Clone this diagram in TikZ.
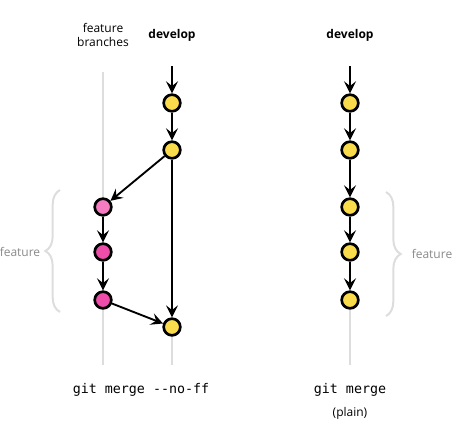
\documentclass[tikz,border=0pt]{standalone}
\usepackage{fontspec}
\setmainfont{Open Sans}
\setmonofont{DejaVu Sans Mono}
\usetikzlibrary{arrows.meta,decorations.pathreplacing}
\definecolor{commityel}{HTML}{F9DB4C}
\definecolor{commitpink}{HTML}{EE4DAA}
\definecolor{commitlpink}{HTML}{F57CC0}
\definecolor{lanegray}{HTML}{DDDDDD}
\definecolor{labelgray}{HTML}{8A8A8A}
\begin{document}
\begin{tikzpicture}[x=0.75pt, y=-0.75pt,
  commit/.style={circle, draw, line width=2pt, fill=commityel, minimum size=12.5pt, inner sep=0pt},
  flow/.style={line width=1.4pt, -{Stealth[length=9pt, width=9pt, inset=3.5pt]}},
  lane/.style={line width=2.2pt, lanegray},
  curly/.style={decorate, decoration={brace, amplitude=11pt}, line width=1.5pt, lanegray},
  note/.style={font=\fontsize{9}{11}\selectfont}]
  \useasboundingbox (0,0) rectangle (459,433);
  % gray lanes
  \draw[lane] (103,72) -- (103,365);
  \draw[lane] (172,336) -- (172,365);
  \draw[lane] (350,310) -- (350,365);
  % left: --no-ff
  \node[note, align=center] (branchlbl) at (103,35) {feature\\branches};
  \node[note, font=\fontsize{9}{11}\selectfont\bfseries] (devlbl) at (172,35) {develop};
  \coordinate (devtop) at (172,66);
  \node[commit] (dev1) at (172,103) {};
  \node[commit] (dev2) at (172,150) {};
  \node[commit, fill=commitlpink] (feat1) at (103,207) {};
  \node[commit, fill=commitpink] (feat2) at (103,252) {};
  \node[commit, fill=commitpink] (feat3) at (103,300) {};
  \node[commit] (merge) at (172,327) {};
  \draw[flow] (devtop) -- (dev1);
  \draw[flow] (dev1) -- (dev2);
  \draw[flow] (dev2) -- (feat1);
  \draw[flow] (feat1) -- (feat2);
  \draw[flow] (feat2) -- (feat3);
  \draw[flow] (feat3) -- (merge);
  \draw[flow, line width=1pt] (dev2) -- (merge);
  \draw[curly] (60,312) -- (60,190);
  \node[note, labelgray] (featlbl) at (20,252) {feature};
  \node[font=\fontsize{10}{12}\selectfont\ttfamily] (nofflbl) at (141,390) {git merge -{}-no-ff};
  % right: plain
  \node[note, font=\fontsize{9}{11}\selectfont\bfseries] (plainlbl) at (350,35) {develop};
  \coordinate (plaintop) at (350,66);
  \foreach \i/\y in {1/103, 2/150, 3/207, 4/252, 5/300}
    \node[commit] (plain\i) at (350,\y) {};
  \draw[flow] (plaintop) -- (plain1);
  \foreach \i [count=\j from 2] in {1,...,4}
    \draw[flow] (plain\i) -- (plain\j);
  \draw[curly] (386,192) -- (386,316);
  \node[note, labelgray] (featlbl2) at (432,254) {feature};
  \node[font=\fontsize{10}{12}\selectfont\ttfamily] (mergelbl) at (350,390) {git merge};
  \node[note] (plaintxt) at (350,413) {(plain)};
\end{tikzpicture}
\end{document}
